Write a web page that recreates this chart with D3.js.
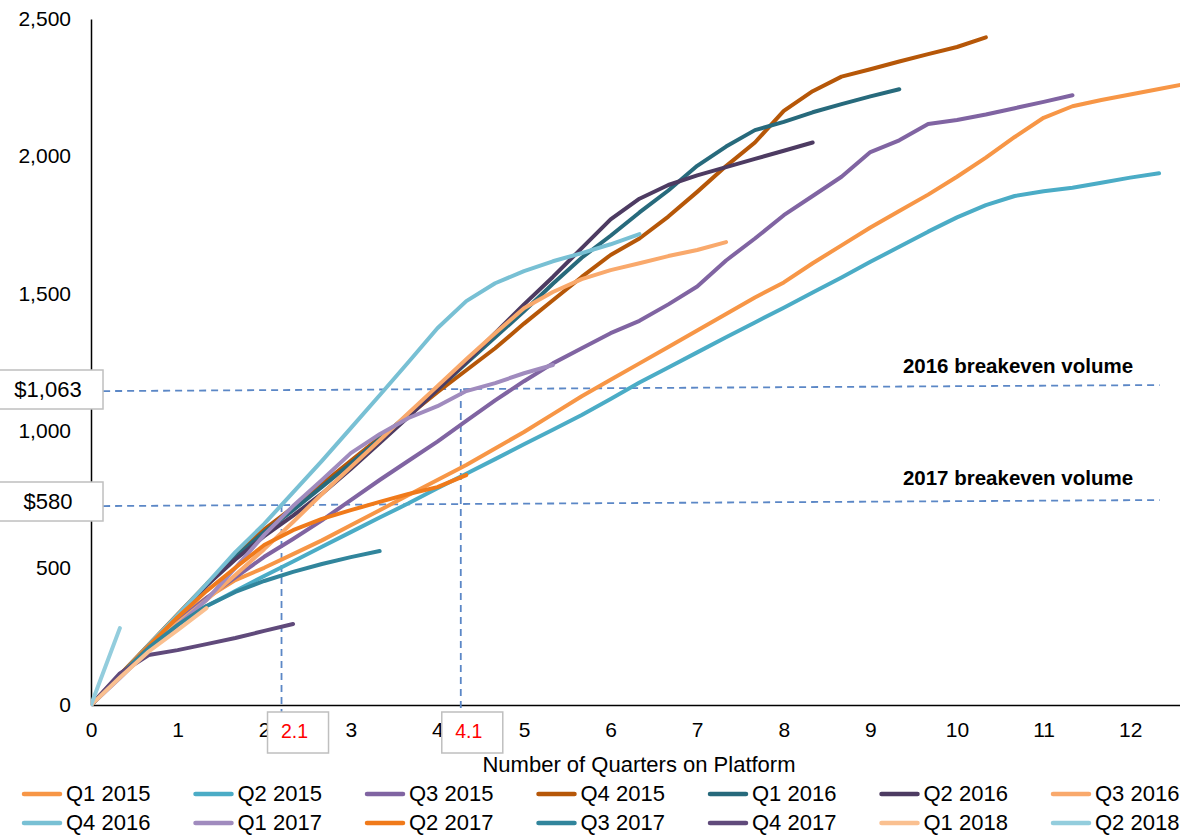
<!DOCTYPE html>
<html><head><meta charset="utf-8">
<script src="https://cdn.jsdelivr.net/npm/d3@7/dist/d3.min.js"></script>
<style>body{margin:0;background:#fff} svg{display:block;font-family:"Liberation Sans",Arial,sans-serif}</style>
</head><body><svg id="c" width="1180" height="835"></svg>
<script>
// ---------- DATA (cumulative volume, one value per month: index/3 = quarters on platform) ----------
const seriesNames = ["Q1 2015","Q2 2015","Q3 2015","Q4 2015","Q1 2016","Q2 2016","Q3 2016",
                     "Q4 2016","Q1 2017","Q2 2017","Q3 2017","Q4 2017","Q1 2018","Q2 2018"];
const seriesColors = ["#F79646","#4BACC6","#8064A2","#B65708","#276A7C","#4D3B62","#F9A96C",
                      "#78C0D4","#A08BBE","#F07A1A","#31859C","#604A7B","#FAC090","#93CDDD"];
const q1_2015 = [0,110,215,315,390,455,500,550,600,655,710,765,820,875,935,995,1060,1125,1185,1245,1305,1365,1425,1485,1540,1610,1675,1740,1800,1860,1925,1995,2070,2140,2182,2205,2225,2245,2265];
const q2_2015 = [0,105,205,295,360,415,470,523,577,630,683,735,790,843,896,950,1003,1057,1115,1175,1230,1285,1340,1394,1448,1503,1558,1615,1670,1725,1777,1822,1855,1872,1885,1903,1922,1938];
const q3_2015 = [0,105,210,305,390,465,540,605,673,747,820,890,960,1035,1110,1180,1245,1300,1355,1400,1460,1525,1620,1700,1785,1855,1925,2015,2058,2117,2132,2152,2175,2198,2222];
const q4_2015 = [0,110,220,330,440,545,640,720,805,890,975,1055,1140,1220,1300,1390,1475,1560,1640,1700,1780,1870,1964,2050,2165,2237,2290,2317,2345,2372,2398,2433];
const q1_2016 = [0,108,215,325,435,540,630,710,795,880,970,1060,1150,1245,1340,1435,1535,1630,1710,1795,1875,1965,2035,2095,2125,2160,2190,2218,2244];
const q2_2016 = [0,108,215,325,435,530,615,690,770,860,955,1050,1150,1250,1355,1460,1560,1665,1770,1845,1895,1930,1960,1990,2020,2050];
const q3_2016 = [0,106,208,299,383,474,568,667,769,867,965,1064,1162,1260,1355,1446,1505,1552,1585,1610,1636,1658,1687];
const q4_2016 = [0,106,219,328,441,557,660,775,890,1009,1129,1250,1373,1472,1537,1581,1617,1647,1679,1716];
const q1_2017 = [0,98,200,291,383,500,620,725,820,918,987,1046,1089,1144,1173,1209,1239];
const q2_2017 = [0,109,215,320,415,500,583,637,678,710,740,769,794,838];
const q3_2017 = [0,109,208,291,361,412,452,485,514,539,561];
const q4_2017 = [0,115,182,200,222,244,270,295];
const q1_2018 = [0,100,195,273,353];
const q2_2018 = [0,280];
const seriesValues = [q1_2015,q2_2015,q3_2015,q4_2015,q1_2016,q2_2016,q3_2016,
                      q4_2016,q1_2017,q2_2017,q3_2017,q4_2017,q1_2018,q2_2018];
const monthsPerQuarter = 3;

const xTicks = [0,1,2,3,4,5,6,7,8,9,10,11,12];
const yTicks = [0,500,1000,1500,2000,2500];
const xTitle = "Number of Quarters on Platform";

// breakeven annotations (value at the left end / right end of each dashed guide)
const breakLabels = ["$1,063","$580"];
const breakNotes  = ["2016 breakeven volume","2017 breakeven volume"];
const breakStart  = [1144, 725];
const breakEnd    = [1166, 747];
const quarterLabels = ["2.1","4.1"];
const quarterAt     = [2.2, 4.27];
const quarterLine   = [1, 0];   // which breakeven guide each vertical guide starts from

// ---------- CHART ----------
const svg = d3.select("#c");
const W = 1180, H = 835;
const x = d3.scaleLinear().domain([0, 12.575]).range([91, 1180]);
const y = d3.scaleLinear().domain([0, 2500]).range([705, 19]);
const guideX0 = 0.14, guideX1 = 12.34;
const guideY = (i, q) => breakStart[i] + (breakEnd[i]-breakStart[i])*(q-guideX0)/(guideX1-guideX0);

svg.append("defs").append("clipPath").attr("id","plot")
  .append("rect").attr("x",91).attr("y",0).attr("width",W-91).attr("height",706);

// axes
const yAxis = d3.axisLeft(y).tickValues(yTicks).tickSize(0).tickPadding(20)
  .tickFormat(d3.format(","));
const gy = svg.append("g").attr("transform","translate(91,0)").call(yAxis);
gy.select(".domain").attr("stroke","#000").attr("stroke-width",1.5);
gy.selectAll("text").attr("font-size",21).attr("fill","#000").attr("font-family","Liberation Sans, Arial");

const xAxis = d3.axisBottom(x).tickValues(xTicks).tickSize(0).tickPadding(17).tickFormat(d3.format("d"));
const gx = svg.append("g").attr("transform","translate(0,705)").call(xAxis);
gx.select(".domain").attr("stroke","#000").attr("stroke-width",1.5);
gx.selectAll("text").attr("font-size",21).attr("fill","#000").attr("font-family","Liberation Sans, Arial");

svg.append("text").attr("x",639).attr("y",772).attr("text-anchor","middle")
  .attr("font-size",22).text(xTitle);

// guides
const dash = "7,5", guideColor = "#5B87C6";
breakLabels.forEach((lab,i)=>{
  svg.append("line").attr("x1",x(guideX0)).attr("x2",x(guideX1))
    .attr("y1",y(breakStart[i])).attr("y2",y(breakEnd[i]))
    .attr("stroke",guideColor).attr("stroke-width",1.8).attr("stroke-dasharray",dash);
});
quarterLabels.forEach((lab,i)=>{
  const q = quarterAt[i];
  svg.append("line").attr("x1",x(q)).attr("x2",x(q))
    .attr("y1",y(guideY(quarterLine[i], q))).attr("y2",712)
    .attr("stroke",guideColor).attr("stroke-width",1.8).attr("stroke-dasharray",dash);
});

// series lines
const line = d3.line().x((d,i)=>x(i/monthsPerQuarter)).y(d=>y(d));
const gl = svg.append("g").attr("clip-path","url(#plot)");
seriesValues.forEach((vals,i)=>{
  gl.append("path").attr("d",line(vals)).attr("fill","none")
    .attr("stroke",seriesColors[i]).attr("stroke-width",4)
    .attr("stroke-linejoin","round").attr("stroke-linecap","round");
});

// breakeven value boxes
const boxTop = [370, 482];
breakLabels.forEach((lab,i)=>{
  svg.append("rect").attr("x",-1).attr("y",boxTop[i]).attr("width",104).attr("height",39)
    .attr("fill","#fff").attr("stroke","#BFBFBF").attr("stroke-width",1.5);
  svg.append("text").attr("x",48).attr("y",boxTop[i]+27).attr("text-anchor","middle")
    .attr("font-size",22).text(lab);
});
// breakeven notes
const noteY = [373, 485];
breakNotes.forEach((t,i)=>{
  svg.append("text").attr("x",1018).attr("y",noteY[i]).attr("text-anchor","middle")
    .attr("font-size",20.5).attr("font-weight","bold").text(t);
});
// quarter boxes
const boxShift = [-14, -19];
quarterLabels.forEach((lab,i)=>{
  const bx = x(quarterAt[i]) + boxShift[i];
  svg.append("rect").attr("x",bx).attr("y",712).attr("width",61).attr("height",41)
    .attr("fill","#fff").attr("stroke","#BFBFBF").attr("stroke-width",1.5);
  svg.append("text").attr("x",bx+27).attr("y",738).attr("text-anchor","middle")
    .attr("font-size",19.5).attr("fill","#FF0000").text(lab);
});

// legend
const legX0 = 24, legDX = 171.5, legRows = [793, 822];
seriesNames.forEach((n,i)=>{
  const r = Math.floor(i/7), c = i%7;
  const lx = legX0 + c*legDX, ly = legRows[r];
  svg.append("line").attr("x1",lx).attr("x2",lx+36).attr("y1",ly+1).attr("y2",ly+1)
    .attr("stroke",seriesColors[i]).attr("stroke-width",4.5).attr("stroke-linecap","round");
  svg.append("text").attr("x",lx+42).attr("y",ly+8).attr("font-size",22).text(n);
});
</script></body></html>
